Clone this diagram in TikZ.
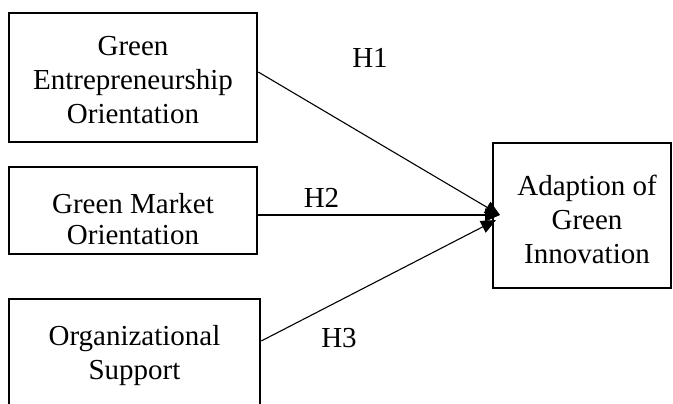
\documentclass[tikz,border=0pt]{standalone}
\usepackage{fontspec}
\setmainfont{Liberation Serif}
\usetikzlibrary{arrows.meta}
\begin{document}
\begin{tikzpicture}[x=1pt,y=-1pt,
  box/.style={draw, line width=2.5pt, inner sep=0pt, anchor=center},
  txt/.style={align=center, font=\fontsize{29}{34}\selectfont, inner sep=0pt},
  link/.style={line width=1.1pt, -{Triangle[length=15pt,width=13pt]}},
  hlab/.style={font=\fontsize{29}{34}\selectfont, inner sep=0pt}]
\path[use as bounding box] (0,0) rectangle (673,404);
\clip (0,0) rectangle (673,404);
\node[box, minimum width=248pt, minimum height=129pt] (b1) at (133,77.5) {};
\node[txt] (t1) at (133,80) {Green\\Entrepreneurship\\Orientation};
\node[box, minimum width=248pt, minimum height=87pt] (b2) at (133,210.5) {};
\node[txt, font=\fontsize{29}{31}\selectfont] (t2) at (133,219) {Green Market\\Orientation};
\node[box, minimum width=251pt, minimum height=121pt] (b3) at (134.5,359.5) {};
\node[txt] (t3) at (134.5,356) {Organizational\\Support};
\node[box, minimum width=178pt, minimum height=145pt] (b4) at (582,215.5) {};
\node[txt] (t4) at (587,219) {Adaption of\\Green\\Innovation};
\coordinate (tip1) at (500,215);
\coordinate (tip3) at (496,220);
\draw[link] ([yshift=5.5pt]b1.east) -- (tip1);
\draw[link] ([yshift=-4.5pt]b2.east) -- (tip1);
\draw[link] ([yshift=18.5pt]b3.east) -- (tip3);
\node[hlab] (h1) at (370,58) {H1};
\node[hlab] (h2) at (321.5,198) {H2};
\node[hlab] (h3) at (339,338) {H3};
\end{tikzpicture}
\end{document}
